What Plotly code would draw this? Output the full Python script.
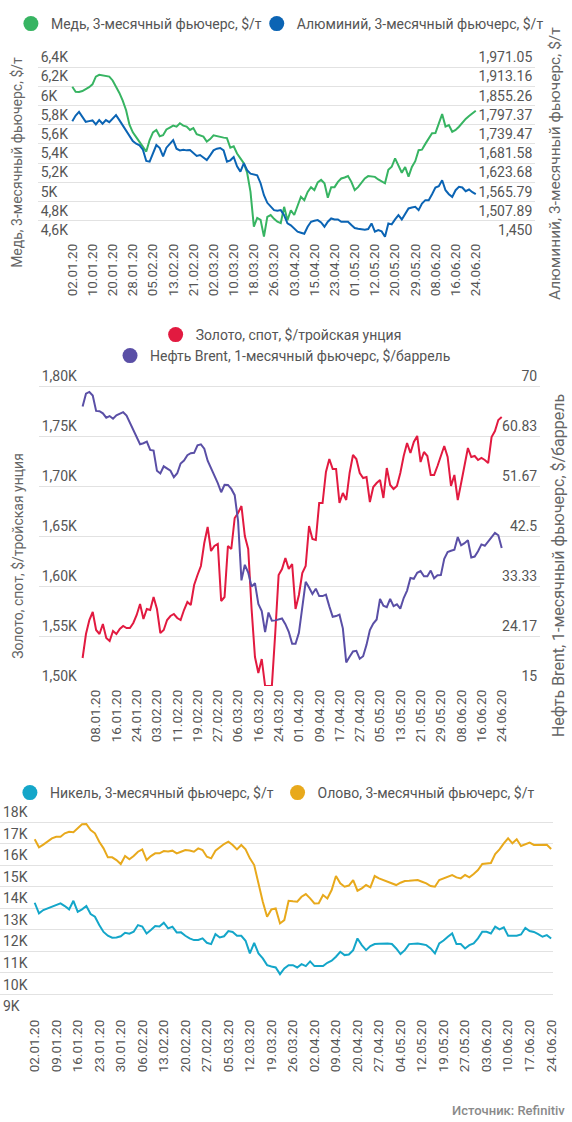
import plotly.graph_objects as go
import pandas as pd

# ---------------- categories (trading days) ----------------
LME_HOLIDAYS = ["2020-04-10", "2020-04-13", "2020-05-08", "2020-05-25"]
lme_days = [d.strftime("%d.%m.%y") for d in pd.bdate_range("2020-01-02", "2020-06-24")
            if d.strftime("%Y-%m-%d") not in LME_HOLIDAYS]
spot_days = [d.strftime("%d.%m.%y") for d in pd.bdate_range("2020-01-02", "2020-06-24")]

# ---------------- series values ----------------
copper = [6195, 6143, 6140, 6150, 6170, 6190, 6220, 6300, 6318, 6310, 6305, 6300, 6260, 6200, 6130,
          6050, 5950, 5800, 5720, 5670, 5620, 5560, 5520, 5640, 5720, 5745, 5680, 5690, 5750, 5770,
          5790, 5780, 5815, 5790, 5780, 5745, 5765, 5700, 5690, 5675, 5625, 5650, 5690, 5680, 5675,
          5665, 5660, 5560, 5575, 5500, 5450, 5400, 5300, 5100, 4740, 4830, 4810, 4635, 4840, 4860,
          4820, 4790, 4775, 4945, 4806, 4910, 4860, 4950, 5050, 5015, 5100, 5150, 5120, 5200, 5225,
          5190, 5040, 5150, 5150, 5205, 5240, 5250, 5265, 5205, 5120, 5150, 5200, 5240, 5265, 5260,
          5257, 5230, 5210, 5190, 5330, 5362, 5450, 5380, 5300, 5360, 5260, 5360, 5420, 5535, 5540,
          5600, 5660, 5710, 5712, 5813, 5910, 5780, 5795, 5726, 5745, 5779, 5820, 5860, 5890, 5920,
          5945]
aluminium = [1808, 1825, 1836, 1822, 1806, 1808, 1810, 1798, 1811, 1800, 1811, 1805, 1815, 1826, 1811,
             1795, 1780, 1760, 1748, 1740, 1735, 1722, 1688, 1686, 1712, 1736, 1727, 1702, 1728, 1740,
             1751, 1725, 1720, 1722, 1720, 1721, 1711, 1703, 1706, 1698, 1691, 1705, 1720, 1725, 1727,
             1720, 1686, 1690, 1700, 1672, 1656, 1681, 1660, 1650, 1648, 1645, 1621, 1585, 1562, 1550,
             1540, 1538, 1540, 1525, 1500, 1494, 1485, 1475, 1472, 1469, 1490, 1505, 1508, 1510, 1503,
             1490, 1505, 1515, 1512, 1512, 1505, 1506, 1505, 1495, 1486, 1484, 1482, 1481, 1483, 1500,
             1475, 1480, 1476, 1460, 1500, 1497, 1512, 1525, 1512, 1530, 1545, 1548, 1550, 1540, 1560,
             1570, 1570, 1588, 1608, 1612, 1630, 1600, 1588, 1580, 1600, 1610, 1608, 1597, 1602, 1594,
             1588]
gold = [1528, 1552, 1566, 1574, 1556, 1552, 1562, 1548, 1545, 1555, 1552, 1557, 1560, 1558, 1558,
        1563, 1571, 1582, 1567, 1577, 1576, 1589, 1577, 1553, 1556, 1566, 1570, 1572, 1568, 1566,
        1576, 1584, 1581, 1601, 1611, 1620, 1643, 1659, 1635, 1640, 1642, 1585, 1589, 1640, 1637,
        1668, 1673, 1680, 1650, 1637, 1577, 1529, 1513, 1527, 1500, 1500, 1500, 1553, 1611, 1617,
        1628, 1617, 1622, 1577, 1591, 1613, 1620, 1660, 1647, 1646, 1683, 1683, 1714, 1727, 1717,
        1717, 1683, 1693, 1686, 1713, 1731, 1727, 1713, 1708, 1709, 1684, 1699, 1703, 1706, 1688,
        1718, 1701, 1697, 1700, 1713, 1730, 1743, 1733, 1744, 1750, 1724, 1734, 1730, 1711, 1711,
        1720, 1730, 1740, 1729, 1700, 1711, 1686, 1703, 1720, 1738, 1729, 1730, 1726, 1728, 1726,
        1723, 1749, 1755, 1766, 1769]
brent = [66.25, 68.60, 68.91, 68.27, 65.44, 65.37, 64.98, 64.20, 64.49, 64.00, 64.62, 64.85, 65.20,
         64.59, 63.21, 62.04, 60.69, 59.32, 59.51, 59.81, 58.29, 58.16, 54.45, 53.96, 55.28, 54.93,
         54.47, 53.27, 54.01, 55.79, 56.34, 57.32, 57.67, 57.75, 59.12, 59.31, 58.50, 56.30, 54.95,
         53.43, 52.18, 50.52, 51.90, 51.86, 51.13, 49.99, 45.27, 34.36, 37.22, 35.79, 33.22, 33.85,
         30.05, 28.73, 24.88, 28.47, 26.98, 27.03, 27.15, 27.39, 26.34, 24.93, 22.76, 22.74, 24.74,
         29.94, 34.11, 33.05, 31.87, 32.84, 31.48, 31.48, 31.74, 29.60, 27.69, 27.82, 28.08, 25.57,
         19.33, 20.37, 21.33, 21.44, 19.99, 20.46, 22.54, 25.27, 26.44, 27.20, 30.97, 29.72, 29.46,
         30.97, 29.63, 29.98, 29.19, 31.13, 32.50, 34.81, 34.65, 35.75, 36.06, 35.13, 35.13, 36.17,
         34.74, 35.29, 35.33, 38.32, 39.57, 39.79, 39.99, 42.30, 40.80, 41.18, 41.73, 38.55, 38.73,
         39.72, 40.96, 40.71, 41.51, 42.19, 43.08, 42.63, 40.31]
nickel = [14254, 13760, 13914, 13990, 14068, 14150, 14222, 14100, 13945, 14346, 13836, 13950, 14100,
          13729, 13605, 13218, 12900, 12722, 12629, 12640, 12700, 12861, 12820, 12908, 13218, 13150,
          12830, 12986, 13172, 13150, 13327, 13064, 13141, 12878, 12880, 12722, 12600, 12522, 12530,
          12599, 12398, 12336, 12800, 12645, 12700, 12940, 12900, 12722, 12722, 12491, 11903, 12398,
          11903, 11671, 11360, 11300, 11252, 10941, 11206, 11360, 11360, 11252, 11407, 11314, 11531,
          11314, 11314, 11314, 11469, 11562, 11748, 11980, 11825, 11856, 12057, 12599, 12289, 12057,
          12243, 12336, 12350, 12360, 12367, 12340, 12134, 11872, 12057, 12336, 12360, 12367, 12330,
          12289, 12134, 11903, 12367, 12500, 12676, 12830, 12336, 12340, 12134, 12289, 12367, 12600,
          12908, 12908, 12830, 13141, 13018, 13110, 12722, 12722, 12722, 12784, 13087, 12940, 12900,
          12800, 12676, 12753, 12599]
tin = [17196, 16825, 16950, 17085, 17243, 17318, 17318, 17475, 17550, 17530, 17707, 17893, 17907,
       17629, 17475, 17085, 16778, 16360, 16360, 16235, 16050, 16421, 16267, 16421, 16621, 16732,
       16235, 16421, 16545, 16545, 16654, 16630, 16670, 16545, 16620, 16700, 16680, 16621, 16778,
       16700, 16390, 16313, 16670, 16825, 16980, 17085, 16933, 16732, 16933, 16732, 16313, 16003,
       15075, 14300, 13605, 13945, 13992, 13295, 13450, 14346, 14320, 14300, 14532, 14656, 14455,
       14223, 14230, 14610, 14455, 14842, 15493, 15153, 14998, 15050, 15308, 14811, 14920, 15075,
       14966, 15493, 15385, 15300, 15230, 15150, 15075, 15183, 15261, 15270, 15290, 15308, 15230,
       15153, 15029, 14998, 15308, 15385, 15493, 15540, 15432, 15385, 15540, 15432, 15586, 15772,
       16050, 16083, 16100, 16514, 16732, 17011, 17243, 17011, 17196, 16887, 16980, 17042, 16933,
       16933, 16940, 16940, 16747]

# ---------------- tick labels ----------------
ticks1 = ["02.01.20", "10.01.20", "20.01.20", "28.01.20", "05.02.20", "13.02.20", "21.02.20",
          "02.03.20", "10.03.20", "18.03.20", "26.03.20", "03.04.20", "15.04.20", "23.04.20",
          "01.05.20", "12.05.20", "20.05.20", "29.05.20", "08.06.20", "16.06.20", "24.06.20"]
ticks2 = ["08.01.20", "16.01.20", "24.01.20", "03.02.20", "11.02.20", "19.02.20", "27.02.20",
          "06.03.20", "16.03.20", "24.03.20", "01.04.20", "09.04.20", "17.04.20", "27.04.20",
          "05.05.20", "13.05.20", "21.05.20", "29.05.20", "08.06.20", "16.06.20", "24.06.20"]
ticks3 = ["02.01.20", "09.01.20", "16.01.20", "23.01.20", "30.01.20", "06.02.20", "13.02.20",
          "20.02.20", "27.02.20", "05.03.20", "12.03.20", "19.03.20", "26.03.20", "02.04.20",
          "09.04.20", "20.04.20", "27.04.20", "04.05.20", "12.05.20", "19.05.20", "27.05.20",
          "03.06.20", "10.06.20", "17.06.20", "24.06.20"]

copper_ticks = [4600, 4800, 5000, 5200, 5400, 5600, 5800, 6000, 6200, 6400]
copper_labels = ["4,6K", "4,8K", "5K", "5,2K", "5,4K", "5,6K", "5,8K", "6K", "6,2K", "6,4K"]
alu_ticks = [1450, 1507.89, 1565.79, 1623.68, 1681.58, 1739.47, 1797.37, 1855.26, 1913.16, 1971.05]
alu_labels = ["1,450", "1,507.89", "1,565.79", "1,623.68", "1,681.58", "1,739.47", "1,797.37",
              "1,855.26", "1,913.16", "1,971.05"]
gold_ticks = [1500, 1550, 1600, 1650, 1700, 1750, 1800]
gold_labels = ["1,50K", "1,55K", "1,60K", "1,65K", "1,70K", "1,75K", "1,80K"]
brent_ticks = [15, 24.17, 33.33, 42.5, 51.67, 60.83, 70]
brent_labels = ["15", "24.17", "33.33", "42.5", "51.67", "60.83", "70"]
metal_ticks = [9000, 10000, 11000, 12000, 13000, 14000, 15000, 16000, 17000, 18000]
metal_labels = ["9K", "10K", "11K", "12K", "13K", "14K", "15K", "16K", "17K", "18K"]

names = {
    "copper": "Медь, 3-месячный фьючерс, $/т",
    "alu": "Алюминий, 3-месячный фьючерс, $/т",
    "gold": "Золото, спот, $/тройская унция",
    "brent": "Нефть Brent, 1-месячный фьючерс, $/баррель",
    "nickel": "Никель, 3-месячный фьючерс, $/т",
    "tin": "Олово, 3-месячный фьючерс, $/т",
}
colors = {
    "copper": "#37b462", "alu": "#0b64b4", "gold": "#e21a40",
    "brent": "#5a4fa6", "nickel": "#14a6c9", "tin": "#e8a91c",
}

FONT = "Roboto"
TXT = "#555555"
GRID = "#e2e2e2"
W, H = 572, 1122


def px(x):
    return x / W


def py(y):
    return 1 - y / H


fig = go.Figure()

# data traces
fig.add_trace(go.Scatter(x=lme_days, y=copper, xaxis="x", yaxis="y", mode="lines",
                         line=dict(color=colors["copper"], width=2), showlegend=False))
fig.add_trace(go.Scatter(x=lme_days, y=aluminium, xaxis="x", yaxis="y2", mode="lines",
                         line=dict(color=colors["alu"], width=2), showlegend=False))
fig.add_trace(go.Scatter(x=spot_days, y=gold, xaxis="x2", yaxis="y3", mode="lines",
                         line=dict(color=colors["gold"], width=2), showlegend=False))
fig.add_trace(go.Scatter(x=spot_days, y=brent, xaxis="x2", yaxis="y4", mode="lines",
                         line=dict(color=colors["brent"], width=2), showlegend=False))
fig.add_trace(go.Scatter(x=lme_days, y=nickel, xaxis="x3", yaxis="y5", mode="lines",
                         line=dict(color=colors["nickel"], width=2), showlegend=False))
fig.add_trace(go.Scatter(x=lme_days, y=tin, xaxis="x3", yaxis="y5", mode="lines",
                         line=dict(color=colors["tin"], width=2), showlegend=False))

# legend entries (one legend box per entry, placed like the original)
legend_pos = {  # key: (legend id, circle centre x, row y, axes)
    "copper": ("legend", 28, 24, "x", "y"),
    "alu": ("legend5", 276, 24, "x", "y"),
    "gold": ("legend2", 174, 335, "x2", "y3"),
    "brent": ("legend3", 128, 356, "x2", "y3"),
    "nickel": ("legend4", 27, 793, "x3", "y5"),
    "tin": ("legend6", 297, 793, "x3", "y5"),
}
legend_layout = {}
for key, (leg, cx, cy, xa, ya) in legend_pos.items():
    fig.add_trace(go.Scatter(x=[None], y=[None], xaxis=xa, yaxis=ya, mode="markers",
                             marker=dict(size=15, color=colors[key]), name=names[key],
                             legend=leg, showlegend=True))
    legend_layout[leg] = dict(orientation="h", x=px(cx - 17), y=py(cy), xanchor="left",
                              yanchor="middle", font=dict(family=FONT, size=14, color=TXT),
                              itemwidth=30, bgcolor="rgba(0,0,0,0)")

xtick_font = dict(family=FONT, size=13.5, color=TXT)
ytick_font = dict(family=FONT, size=14, color=TXT)


def xaxis(domain, anchor, rng, ticks):
    return dict(domain=domain, anchor=anchor, type="category", range=rng,
                tickmode="array", tickvals=ticks, ticktext=ticks, tickangle=-90,
                showgrid=False, showline=False, zeroline=False, ticks="",
                tickfont=xtick_font, fixedrange=True, ticklabeloverflow="allow")


def yaxis(domain, anchor, rng, tv, tt, side="left", overlay=None, grid=True):
    d = dict(anchor=anchor, range=rng, tickmode="array", tickvals=tv, ticktext=tt,
             side=side, ticklabelposition="inside top", showgrid=grid, gridcolor=GRID,
             gridwidth=1, showline=False, zeroline=False, ticks="", tickfont=ytick_font,
             fixedrange=True, ticklabeloverflow="allow")
    if overlay:
        d["overlaying"] = overlay
    else:
        d["domain"] = domain
    return d


# each panel: extra 20 px of headroom above the top gridline so its label fits
d1y = [py(240), py(47)]
d2y = [py(686), py(366)]
d3y = [py(1016), py(802)]

fig.update_layout(
    width=W, height=H, margin=dict(l=0, r=0, t=0, b=0),
    paper_bgcolor="white", plot_bgcolor="white",
    font=dict(family=FONT, color=TXT),
    xaxis=xaxis([px(38), px(540)], "y", [-10.3, 137.7], ticks1),
    yaxis=yaxis(d1y, "x", [4600, 6400 + 20 / 19.22 * 200], copper_ticks, copper_labels),
    yaxis2=yaxis(None, "x", [1450, 1971.05 + 20 / 19.22 * 57.894], alu_ticks, alu_labels,
                 side="right", overlay="y", grid=False),
    xaxis2=xaxis([px(39), px(545)], "y3", [-13, 135.4], ticks2),
    yaxis3=yaxis(d2y, "x2", [1500, 1820], gold_ticks, gold_labels),
    yaxis4=yaxis(None, "x2", [15, 70 + 20 / 300 * 55], brent_ticks, brent_labels, side="right",
                 overlay="y3", grid=False),
    xaxis3=xaxis([0, px(558)], "y5", [-8.06, 120.46], ticks3),
    yaxis5=yaxis(d3y, "x3", [9000, 18000 + 20 / 21.55 * 1000], metal_ticks, metal_labels),
    showlegend=True,
    **legend_layout,
)

annos = [
    dict(text=names["copper"], x=px(17), y=py(162), size=14),
    dict(text=names["alu"], x=px(560), y=py(164), size=15.5),
    dict(text=names["gold"], x=px(18), y=py(556), size=14),
    dict(text=names["brent"], x=px(563), y=py(566), size=16),
]
for a in annos:
    fig.add_annotation(text=a["text"], x=a["x"], y=a["y"], textangle=-90,
                       xref="paper", yref="paper", showarrow=False,
                       font=dict(family=FONT, size=a["size"], color="#666666"),
                       xanchor="center", yanchor="middle")
fig.add_annotation(text="Источник: Refinitiv", xref="paper", yref="paper", x=px(572), y=py(1110),
                   xanchor="right", yanchor="middle", showarrow=False,
                   font=dict(family=FONT, size=13, color="#8a8a8a", weight=500))

fig.write_html("out.html", config={"displayModeBar": False},
               post_script="document.body.style.margin='0';document.body.style.overflow='hidden';")
